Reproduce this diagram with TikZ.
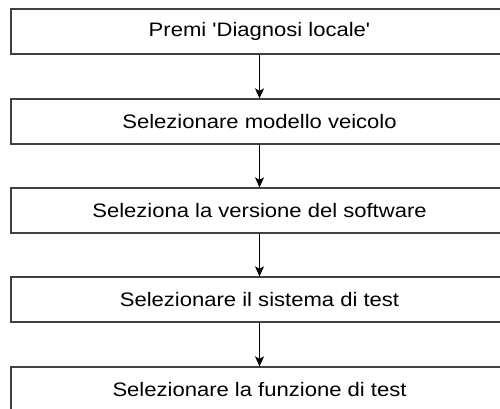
\documentclass[tikz,border=0pt]{standalone}
\usepackage{fontspec}
\setmainfont{Liberation Sans}
\usetikzlibrary{arrows.meta}
\newcommand{\wide}[1]{\scalebox{1.13}[1]{#1}}
\tikzset{
  stepbox/.style={draw=black!75, line width=1.3pt, fill=white, minimum width=497pt, minimum height=45pt, inner sep=0pt, font=\fontsize{19.5}{23}\selectfont, text=black},
  flow/.style={draw=black, line width=1pt, -{Stealth[length=10pt,width=9pt,inset=2.5pt]}}
}
\begin{document}
\begin{tikzpicture}[x=1pt,y=-1pt]
\useasboundingbox (0,0) rectangle (500,408);
\clip (0,0) rectangle (500,408);
\node[stepbox] (b1) at (259.5,31.5) {\wide{Premi \textquotesingle Diagnosi locale\textquotesingle}};
\node[stepbox] (b2) at (259.5,121.5) {\wide{Selezionare modello veicolo}};
\node[stepbox] (b3) at (259.5,210.5) {\wide{Seleziona la versione del software}};
\node[stepbox] (b4) at (259.5,299.5) {\wide{Selezionare il sistema di test}};
\node[stepbox] (b5) at (259.5,389.5) {\wide{Selezionare la funzione di test}};
\draw[flow] (b1) -- (b2);
\draw[flow] (b2) -- (b3);
\draw[flow] (b3) -- (b4);
\draw[flow] (b4) -- (b5);
\end{tikzpicture}
\end{document}
